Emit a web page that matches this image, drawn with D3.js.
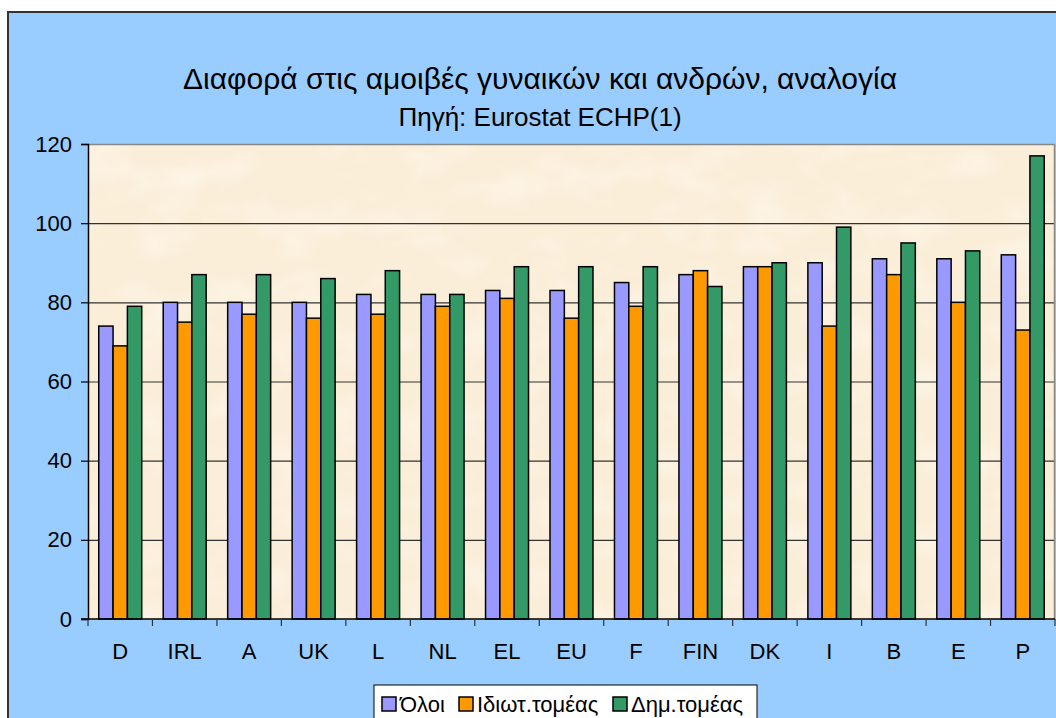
<!DOCTYPE html>
<html>
<head>
<meta charset="utf-8">
<script src="https://cdn.jsdelivr.net/npm/d3@7"></script>
<style>
  html, body { margin: 0; padding: 0; background: #fff; overflow: hidden; }
  svg { display: block; font-family: "Liberation Sans", Arial, sans-serif; }
</style>
</head>
<body>
<div id="chart"></div>
<script>
const countries = ['D', 'IRL', 'A', 'UK', 'L', 'NL', 'EL', 'EU', 'F', 'FIN', 'DK', 'I', 'B', 'E', 'P'];
const seriesNames = ['Όλοι', 'Ιδιωτ.τομέας', 'Δημ.τομέας'];
const allValues     = [74, 80, 80, 80, 82, 82, 83, 83, 85, 87, 89, 90, 91, 91, 92];
const privateValues = [69, 75, 77, 76, 77, 79, 81, 76, 79, 88, 89, 74, 87, 80, 73];
const publicValues  = [79, 87, 87, 86, 88, 82, 89, 89, 89, 84, 90, 99, 95, 93, 117];
const yTicks = [0, 20, 40, 60, 80, 100, 120];
const colors = ['#9999FF', '#FF9900', '#339966'];

const width = 1056, height = 718;
const plot = { left: 88, right: 1055, top: 144, bottom: 619 };

const svg = d3.select('#chart').append('svg')
  .attr('width', width)
  .attr('height', height);

// texture for the parchment plot area
const defs = svg.append('defs');
const filter = defs.append('filter').attr('id', 'paper')
  .attr('x', 0).attr('y', 0).attr('width', 1).attr('height', 1);
filter.append('feTurbulence')
  .attr('type', 'fractalNoise').attr('baseFrequency', '0.015 0.025')
  .attr('numOctaves', 3).attr('seed', 7).attr('result', 'noise');
filter.append('feColorMatrix').attr('in', 'noise').attr('type', 'matrix')
  .attr('values', '0 0 0 0 0.99  0 0 0 0 0.96  0 0 0 0 0.89  0 0 0 -1.2 0.65')
  .attr('result', 'spots');
filter.append('feComposite').attr('in', 'spots').attr('in2', 'SourceGraphic').attr('operator', 'atop');

// chart frame
svg.append('rect')
  .attr('x', 8).attr('y', 12)
  .attr('width', width).attr('height', height)
  .attr('fill', '#99CCFF')
  .attr('stroke', '#333').attr('stroke-width', 2);

svg.append('text')
  .attr('x', 540).attr('y', 89)
  .attr('text-anchor', 'middle')
  .attr('font-size', 30)
  .attr('fill', '#000')
  .text('Διαφορά στις αμοιβές γυναικών και ανδρών, αναλογία');

svg.append('text')
  .attr('x', 540).attr('y', 126)
  .attr('text-anchor', 'middle')
  .attr('font-size', 26)
  .attr('fill', '#000')
  .text('Πηγή: Eurostat ECHP(1)');

const x = d3.scaleBand()
  .domain(countries)
  .range([plot.left, plot.right])
  .paddingInner(1 / 3)
  .paddingOuter(1 / 6);

const xs = d3.scaleBand()
  .domain(d3.range(seriesNames.length))
  .range([0, x.bandwidth()]);

const y = d3.scaleLinear()
  .domain([0, 120])
  .range([plot.bottom, plot.top]);

// plot background
svg.append('rect')
  .attr('x', plot.left).attr('y', plot.top)
  .attr('width', plot.right - plot.left).attr('height', plot.bottom - plot.top)
  .attr('fill', '#FBEED8')
  .attr('filter', 'url(#paper)');

// gridlines
svg.append('g')
  .selectAll('line')
  .data(yTicks.filter(d => d > 0 && d < 120))
  .join('line')
  .attr('x1', plot.left).attr('x2', plot.right)
  .attr('y1', d => y(d) + 0.5).attr('y2', d => y(d) + 0.5)
  .attr('stroke', '#333').attr('stroke-width', 1.2);

// plot border (top, right)
svg.append('path')
  .attr('d', `M${plot.left},${plot.top + 0.5}H${plot.right - 0.5}V${plot.bottom}`)
  .attr('fill', 'none').attr('stroke', '#888').attr('stroke-width', 1.5);

// bars
const series = [allValues, privateValues, publicValues];
const groups = svg.append('g')
  .selectAll('g')
  .data(countries)
  .join('g')
  .attr('transform', d => `translate(${x(d)},0)`);

groups.selectAll('rect')
  .data((d, i) => series.map((s, k) => ({ k, v: s[i] })))
  .join('rect')
  .attr('x', d => xs(d.k))
  .attr('y', d => y(d.v))
  .attr('width', xs.bandwidth())
  .attr('height', d => y(0) - y(d.v))
  .attr('fill', d => colors[d.k])
  .attr('stroke', '#000')
  .attr('stroke-width', 1.5);

// y axis
const yAxis = svg.append('g')
  .attr('transform', `translate(${plot.left},0)`)
  .call(d3.axisLeft(y).tickValues(yTicks).tickSize(7).tickPadding(9));
yAxis.select('.domain').attr('stroke', '#000').attr('stroke-width', 1.5);
yAxis.selectAll('.tick line').attr('stroke', '#000').attr('stroke-width', 1.2);
yAxis.selectAll('text')
  .attr('font-size', 22)
  .attr('font-family', '"Liberation Sans", Arial, sans-serif')
  .attr('fill', '#000');

// x axis with ticks between categories
const xAxis = svg.append('g')
  .attr('transform', `translate(0,${plot.bottom})`);
xAxis.append('line')
  .attr('x1', plot.left - 7).attr('x2', plot.right)
  .attr('stroke', '#000').attr('stroke-width', 1.5);
xAxis.selectAll('.tk')
  .data(d3.range(countries.length + 1))
  .join('line')
  .attr('class', 'tk')
  .attr('x1', i => plot.left + i * x.step())
  .attr('x2', i => plot.left + i * x.step())
  .attr('y1', 0).attr('y2', 7)
  .attr('stroke', '#333').attr('stroke-width', 1.2);
xAxis.selectAll('text')
  .data(countries)
  .join('text')
  .attr('x', d => x(d) + x.bandwidth() / 2)
  .attr('y', 40)
  .attr('text-anchor', 'middle')
  .attr('font-size', 22)
  .attr('fill', '#000')
  .text(d => d);

// legend
const legend = svg.append('g').attr('transform', 'translate(374,685)');
legend.append('rect')
  .attr('width', 383).attr('height', 50)
  .attr('fill', '#fff').attr('stroke', '#000').attr('stroke-width', 1);
const itemX = [8, 85, 239];
const items = legend.selectAll('g.item')
  .data(seriesNames)
  .join('g')
  .attr('class', 'item')
  .attr('transform', (d, i) => `translate(${itemX[i]},0)`);
items.append('rect')
  .attr('x', 0).attr('y', 12)
  .attr('width', 14).attr('height', 14)
  .attr('fill', (d, i) => colors[i])
  .attr('stroke', '#000').attr('stroke-width', 1.5);
items.append('text')
  .attr('x', 18).attr('y', 27)
  .attr('font-size', 22)
  .attr('fill', '#000')
  .text(d => d);
</script>
</body>
</html>
